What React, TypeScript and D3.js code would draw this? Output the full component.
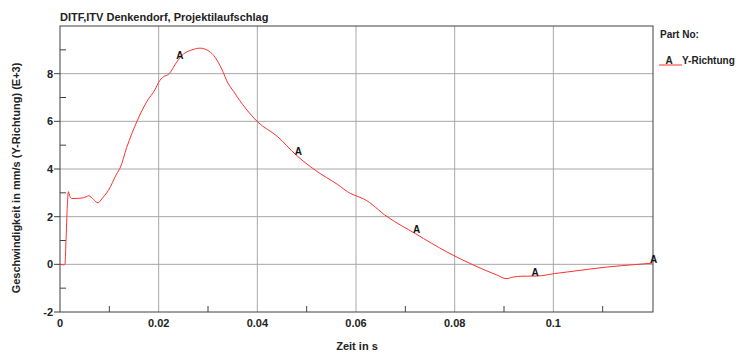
import React from "react";
import * as d3 from "d3";

const title = "DITF,ITV Denkendorf, Projektilaufschlag";
const yLabel = "Geschwindigkeit in mm/s (Y-Richtung) (E+3)";
const xLabel = "Zeit in s";
const legendTitle = "Part No:";
const seriesName = "Y-Richtung";
const seriesMarker = "A";

const xTicks = [0, 0.02, 0.04, 0.06, 0.08, 0.1];
const xTickLabels = ["0", "0.02", "0.04", "0.06", "0.08", "0.1"];
const xMinorTicks = [0.01, 0.03, 0.05, 0.07, 0.09, 0.11];
const yTicks = [-2, 0, 2, 4, 6, 8];
const yMinorTicks = [-1, 1, 3, 5, 7, 9];
const markerTimes = [0.024, 0.048, 0.072, 0.096, 0.12];

const timeValues = [
  0, 0.0008, 0.001, 0.0012, 0.0015, 0.0017, 0.002, 0.0024, 0.004, 0.0055, 0.0058,
  0.0068, 0.0077, 0.0085, 0.0091, 0.0098, 0.0115, 0.0122, 0.0135, 0.0156, 0.0176,
  0.0193, 0.02, 0.021, 0.022, 0.0237, 0.025, 0.0265, 0.0284, 0.0305, 0.0331, 0.0338,
  0.0352, 0.0376, 0.0401, 0.044, 0.0479, 0.0518, 0.0562, 0.0589, 0.0606, 0.0616,
  0.0663, 0.0721, 0.0785, 0.0839, 0.0887, 0.0904, 0.092, 0.0934, 0.0968, 0.1002,
  0.1029, 0.111, 0.1166, 0.1201,
];
const speedValues = [
  0, -0.02, 0.0, 0.9, 2.5, 3.05, 2.85, 2.76, 2.77, 2.85, 2.88,
  2.72, 2.58, 2.75, 2.9, 3.1, 3.8, 4.05, 4.89, 6.0, 6.83,
  7.35, 7.64, 7.875, 7.97, 8.5, 8.82, 8.98, 9.07, 8.9, 8.05, 7.7,
  7.25, 6.55, 5.97, 5.375, 4.58, 3.94, 3.36, 2.97, 2.83, 2.74,
  2.0, 1.28, 0.51, -0.04, -0.46, -0.6, -0.53, -0.5, -0.49, -0.39,
  -0.32, -0.11, -0.01, 0.05,
];

const W = 739;
const H = 354;
const L = 60;
const R = 653;
const T = 26;
const B = 312;
const FONT = "'Liberation Sans', Arial, sans-serif";

export default function App() {
  const x = d3.scaleLinear().domain([0, 0.1202]).range([L, R]);
  const y = d3.scaleLinear().domain([-2, 10]).range([B, T]);
  const data = timeValues.map((t, i) => [t, speedValues[i]] as [number, number]);
  const line = d3
    .line<[number, number]>()
    .x((d) => x(d[0]))
    .y((d) => y(d[1]))
    .curve(d3.curveMonotoneX);
  const interp = (t: number) => {
    const i = d3.bisector((d: [number, number]) => d[0]).left(data, t);
    if (i <= 0) return data[0][1];
    if (i >= data.length) return data[data.length - 1][1];
    const a = data[i - 1];
    const b = data[i];
    return a[1] + ((b[1] - a[1]) * (t - a[0])) / (b[0] - a[0]);
  };
  const gridColor = "#a8a8a8";
  const axisColor = "#404040";

  return (
    <svg width={W} height={H} style={{ position: "absolute", left: 0, top: 0 }} fontFamily={FONT}>
      <rect x={0} y={0} width={W} height={H} fill="#fff" />
      <text x={L} y={21} fontSize={11} fontWeight="bold" fill="#222">
        {title}
      </text>
      {/* grid */}
      {yTicks
        .filter((v) => v > -2)
        .map((v) => (
          <line key={"gy" + v} x1={L} x2={R} y1={y(v)} y2={y(v)} stroke={gridColor} strokeWidth={1} />
        ))}
      {xTicks
        .filter((v) => v > 0)
        .map((v) => (
          <line key={"gx" + v} x1={x(v)} x2={x(v)} y1={T} y2={B} stroke={gridColor} strokeWidth={1} />
        ))}
      {/* frame */}
      <rect x={L} y={T} width={R - L} height={B - T} fill="none" stroke={axisColor} strokeWidth={1} />
      {/* y ticks */}
      {yTicks.map((v) => (
        <g key={"yt" + v}>
          <line x1={L - 6} x2={L} y1={y(v)} y2={y(v)} stroke={axisColor} />
          <text x={L - 7} y={y(v)} dy="0.35em" textAnchor="end" fontSize={11} fontWeight="bold" fill="#222">
            {v}
          </text>
        </g>
      ))}
      {yMinorTicks.map((v) => (
        <line key={"ym" + v} x1={L} x2={L + 6} y1={y(v)} y2={y(v)} stroke={axisColor} />
      ))}
      {xMinorTicks.map((v) => (
        <line key={"xm" + v} x1={x(v)} x2={x(v)} y1={B} y2={B - 6} stroke={axisColor} />
      ))}
      {xTicks.map((v, i) => (
        <text key={"xt" + v} x={x(v)} y={B + 15} textAnchor="middle" fontSize={11} fontWeight="bold" fill="#222">
          {xTickLabels[i]}
        </text>
      ))}
      <text x={357} y={350} textAnchor="middle" fontSize={11} fontWeight="bold" fill="#222">
        {xLabel}
      </text>
      <text
        transform={`translate(20,178) rotate(-90)`}
        textAnchor="middle"
        fontSize={11}
        fontWeight="bold"
        fill="#222"
      >
        {yLabel}
      </text>
      {/* series */}
      <path d={line(data) || ""} fill="none" stroke="#ff3030" strokeWidth={1} />
      {markerTimes.map((t) => (
        <text
          key={"mk" + t}
          x={x(t) + 1.5}
          y={y(interp(t)) - 4}
          dy="0.35em"
          textAnchor="middle"
          fontSize={10}
          fontWeight="bold"
          fill="#111"
        >
          {seriesMarker}
        </text>
      ))}
      {/* legend */}
      <text x={660} y={38} fontSize={10} fontWeight="bold" fill="#222">
        {legendTitle}
      </text>
      <line x1={659} x2={682} y1={65} y2={65} stroke="#ff3030" strokeWidth={1} />
      <text x={669} y={64} textAnchor="middle" fontSize={10} fontWeight="bold" fill="#222">
        {seriesMarker}
      </text>
      <text x={682} y={64} fontSize={10} fontWeight="bold" fill="#222">
        {seriesName}
      </text>
    </svg>
  );
}
